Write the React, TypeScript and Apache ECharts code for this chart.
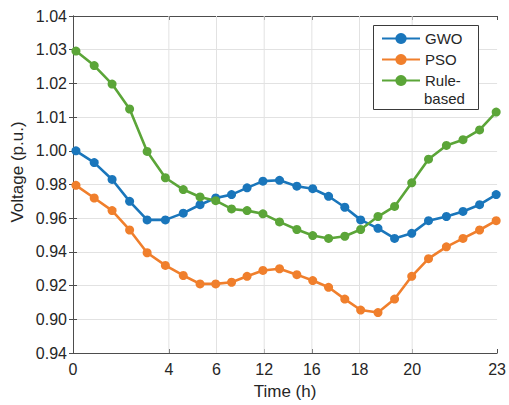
import React, { useEffect, useRef } from "react";
import * as echarts from "echarts";

// ---- data ----
// time positions of the samples along the horizontal axis (axis runs 0..23)
const timePoints = [
  0.16, 1.15, 2.12, 3.07, 4.02, 5.01, 5.98, 6.89, 7.74, 8.6, 9.44, 10.3, 11.2,
  12.14, 13.0, 13.86, 14.74, 15.6, 16.54, 17.44, 18.37, 19.28, 20.25, 21.15,
  22.05, 22.95,
];
const gwo = [
  1.0, 0.993, 0.983, 0.97, 0.959, 0.959, 0.963, 0.968, 0.972, 0.974, 0.978,
  0.982, 0.9825, 0.979, 0.9775, 0.973, 0.9665, 0.959, 0.954, 0.948, 0.951,
  0.9585, 0.961, 0.964, 0.968, 0.974,
];
const pso = [
  0.9795, 0.972, 0.9645, 0.953, 0.9395, 0.932, 0.926, 0.921, 0.921, 0.922,
  0.9255, 0.929, 0.93, 0.9265, 0.923, 0.919, 0.912, 0.9055, 0.904, 0.912,
  0.9255, 0.936, 0.943, 0.948, 0.953, 0.9585,
];
const ruleBased = [
  1.0296, 1.0253, 1.0198, 1.0124, 0.9996, 0.984, 0.977, 0.9726, 0.9704,
  0.9655, 0.9645, 0.9626, 0.9578, 0.9533, 0.9497, 0.948, 0.9493, 0.9533,
  0.961, 0.967, 0.981, 0.995, 1.0016, 1.0033, 1.0062, 1.0115,
];
const seriesNames = ["GWO", "PSO", "Rule-based"];

// x tick positions (on the 0..23 axis) and their printed labels
const xTickPositions = [0, 5.198, 7.783, 10.369, 12.954, 15.539, 18.394, 23];
const xTickLabels = ["0", "4", "6", "12", "16", "18", "20", "23"];

// y axis: 11 evenly spaced gridlines, printed labels from bottom to top
const yTickLabels = [
  "0.94", "0.90", "0.92", "0.94", "0.96", "0.98", "1.00", "1.01", "1.02", "1.03", "1.04",
];
const Y_MIN = 0.88;
const Y_STEP = 0.02;
const Y_MAX = 1.08;

// The printed axis uses 0.01 per gridline above 1.00 and 0.02 below it.
const toAxis = (v: number) => (v >= 1 ? 1 + (v - 1) * 2 : v);

const COLORS = ["#1a76bb", "#f07f2c", "#5ba538"];
const FONT = "'Liberation Sans', Arial, Helvetica, sans-serif";
const TEXT = "#262626";
const AXIS = "#4d4d4d";
const GRID = "#e2e2e2";

export default function App() {
  const ref = useRef<HTMLDivElement>(null);

  useEffect(() => {
    if (!ref.current) return;
    document.body.style.margin = "0";
    const chart = echarts.init(ref.current, null, { renderer: "svg" });

    const values = [gwo, pso, ruleBased];
    const nearestX = (v: number) => {
      let best = 0;
      xTickPositions.forEach((p, i) => {
        if (Math.abs(p - v) < Math.abs(xTickPositions[best] - v)) best = i;
      });
      return xTickLabels[best];
    };

    // vertical grid lines at the custom tick positions (drawn first, underneath)
    const series: any[] = xTickPositions.slice(1, -1).map((p) => ({
      type: "line",
      silent: true,
      z: 1,
      showSymbol: false,
      symbol: "none",
      emphasis: { disabled: true },
      tooltip: { show: false },
      lineStyle: { color: GRID, width: 1 },
      data: [
        [p, Y_MIN],
        [p, Y_MAX],
      ],
    }));

    seriesNames.forEach((name, si) => {
      series.push({
        name,
        type: "line",
        xAxisIndex: 0,
        yAxisIndex: 0,
        data: timePoints.map((t, i) => [t, toAxis(values[si][i])]),
        symbol: "circle",
        symbolSize: 9,
        lineStyle: { width: 2.6, color: COLORS[si] },
        itemStyle: { color: COLORS[si] },
        z: 3 + si,
      });
    });

    const yFormatter = (v: number) => {
      const idx = Math.round((v - Y_MIN) / Y_STEP);
      return yTickLabels[idx] ?? "";
    };

    chart.setOption({
      animation: false,
      backgroundColor: "#ffffff",
      textStyle: { fontFamily: FONT },
      grid: { left: 73, top: 16, width: 427, height: 338 },
      legend: {
        data: seriesNames,
        orient: "vertical",
        left: 381,
        top: 30,
        padding: 0,
        itemGap: 4,
        itemWidth: 38,
        itemHeight: 14,
        z: 20,
        formatter: (name: string) => (name === "Rule-based" ? "Rule-" : name),
        textStyle: { fontSize: 15, color: TEXT, fontFamily: FONT, lineHeight: 17 },
      },
      graphic: [
        {
          type: "rect",
          z: 10,
          silent: true,
          shape: { x: 373.5, y: 25.5, width: 105, height: 84 },
          style: { fill: "#ffffff", stroke: "#3a3a3a", lineWidth: 1 },
        },
        {
          type: "text",
          z: 21,
          silent: true,
          x: 424,
          y: 98,
          style: {
            text: "based",
            fontSize: 15,
            fontFamily: FONT,
            fill: TEXT,
            align: "left",
            verticalAlign: "middle",
          },
        },
        {
          type: "text",
          z: 21,
          silent: true,
          x: 17,
          y: 172,
          rotation: Math.PI / 2,
          style: {
            text: "Voltage (p.u.)",
            fontSize: 17,
            fontFamily: FONT,
            fill: TEXT,
            align: "center",
            verticalAlign: "middle",
          },
        },
      ],
      xAxis: [
        {
          type: "value",
          min: 0,
          max: 23,
          position: "bottom",
          name: "Time (h)",
          nameLocation: "middle",
          nameGap: 30,
          nameTextStyle: { fontSize: 17, color: TEXT, fontFamily: FONT },
          axisLine: { show: true, lineStyle: { color: AXIS, width: 1 } },
          axisTick: {
            show: true,
            inside: true,
            length: 4,
            customValues: xTickPositions,
            lineStyle: { color: AXIS },
          },
          axisLabel: {
            customValues: xTickPositions,
            formatter: (v: number) => nearestX(v),
            fontSize: 16,
            color: TEXT,
            margin: 8,
            fontFamily: FONT,
          },
          splitLine: { show: false },
        },
        {
          type: "value",
          min: 0,
          max: 23,
          position: "top",
          axisLine: { show: true, lineStyle: { color: AXIS, width: 1 } },
          axisTick: {
            show: true,
            inside: true,
            length: 4,
            customValues: xTickPositions,
            lineStyle: { color: AXIS },
          },
          axisLabel: { show: false },
          splitLine: { show: false },
        },
      ],
      yAxis: [
        {
          type: "value",
          min: Y_MIN,
          max: Y_MAX,
          interval: Y_STEP,
          position: "left",
          axisLine: { show: true, lineStyle: { color: AXIS, width: 1 } },
          axisTick: { show: true, inside: true, length: 4, lineStyle: { color: AXIS } },
          axisLabel: {
            formatter: yFormatter,
            fontSize: 16,
            color: TEXT,
            margin: 6,
            fontFamily: FONT,
          },
          splitLine: { show: true, lineStyle: { color: GRID, width: 1 } },
        },
        {
          type: "value",
          min: Y_MIN,
          max: Y_MAX,
          interval: Y_STEP,
          position: "right",
          axisLine: { show: true, lineStyle: { color: AXIS, width: 1 } },
          axisTick: { show: true, inside: true, length: 4, lineStyle: { color: AXIS } },
          axisLabel: { show: false },
          splitLine: { show: false },
        },
      ],
      series,
    });

    return () => chart.dispose();
  }, []);

  return <div ref={ref} style={{ width: 509, height: 405 }} />;
}
